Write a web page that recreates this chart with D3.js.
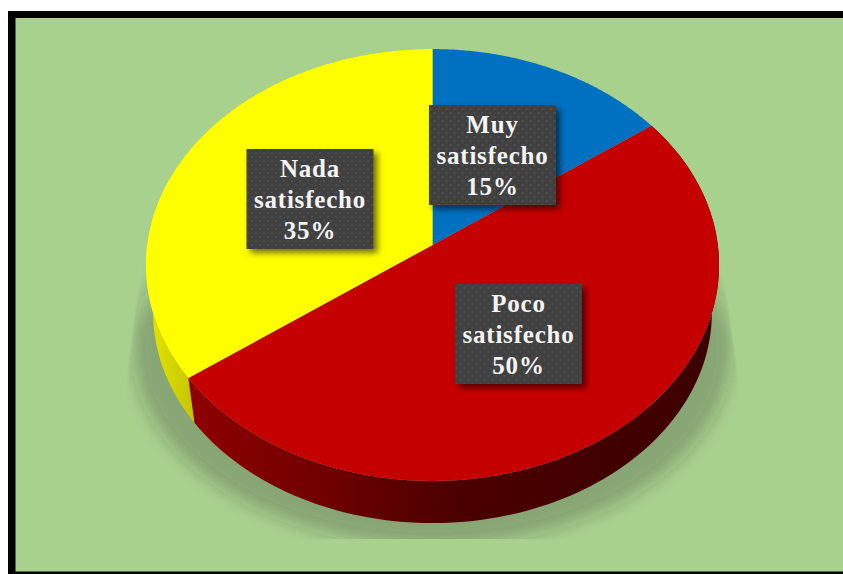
<!DOCTYPE html>
<html>
<head>
<meta charset="utf-8">
<script src="https://cdn.jsdelivr.net/npm/d3@7"></script>
<style>
html,body{margin:0;padding:0;background:#fff;}
svg{display:block;}
</style>
</head>
<body>
<svg id="chart" width="843" height="574"></svg>
<script>
const categories = ["Muy satisfecho", "Poco satisfecho", "Nada satisfecho"];
const shares = [15, 50, 35];
const sliceColors = ["#0070c0", "#c50000", "#ffff00"];
const labelLines = [["Muy", "satisfecho", "15%"], ["Poco", "satisfecho", "50%"], ["Nada", "satisfecho", "35%"]];

const svg = d3.select("#chart");
const defs = svg.append("defs");

// Tilted disc: unit circle seen in perspective, apex at (432.5, 245).
const cx = 432.5, cy = 245, rX = 285.3, rY = 214.1, persp = 0.0926;
const rimScale = 0.975, rimDrop = 48;
const project = (angle, lift) => {
  const u = Math.sin(angle), v = -Math.cos(angle);
  const d = 1 - persp * v, s = lift ? rimScale : 1;
  return [cx + s * rX * u / d, cy + s * rY * v / d + (lift ? rimDrop : 0)];
};
const sweep = (a0, a1, lift) => d3.range(0, 121).map(i => project(a0 + (a1 - a0) * i / 120, lift));
const line = d3.line();

const arcs = d3.pie().sort(null).value(d => d)(shares);

// Frame and background
svg.append("rect").attr("x", 8).attr("y", 11).attr("width", 860).attr("height", 570).attr("fill", "#000");
svg.append("rect").attr("x", 15.5).attr("y", 18).attr("width", 860).attr("height", 553.5).attr("fill", "#a9d18e");

// Ground shadow: blurred ellipse, fading upward, trimmed to a flared wedge and cut flat underneath
const fade = defs.append("linearGradient").attr("id", "shadowFade").attr("gradientUnits", "userSpaceOnUse")
  .attr("x1", 0).attr("x2", 0).attr("y1", 215).attr("y2", 330);
fade.append("stop").attr("offset", 0).attr("stop-color", "#fff").attr("stop-opacity", 0);
fade.append("stop").attr("offset", 1).attr("stop-color", "#fff").attr("stop-opacity", 1);
defs.append("mask").attr("id", "shadowMask").attr("maskUnits", "userSpaceOnUse")
  .attr("x", 0).attr("y", 0).attr("width", 843).attr("height", 574)
  .append("rect").attr("width", 843).attr("height", 574).attr("fill", "url(#shadowFade)");
defs.append("filter").attr("id", "shadowBlur").attr("x", "-20%").attr("y", "-20%").attr("width", "140%").attr("height", "140%")
  .append("feGaussianBlur").attr("stdDeviation", 9);
defs.append("filter").attr("id", "edgeBlur").attr("filterUnits", "userSpaceOnUse")
  .attr("x", 0).attr("y", 0).attr("width", 843).attr("height", 574)
  .append("feGaussianBlur").attr("stdDeviation", 1.2);
defs.append("clipPath").attr("id", "wedgeClip").append("path")
  .attr("d", line([[150, 200], [127, 383], [100, 600], [770, 600], [738, 380], [716, 230]]) + "Z");
defs.append("clipPath").attr("id", "floorClip").append("rect")
  .attr("x", 0).attr("y", 0).attr("width", 843).attr("height", 539);
svg.append("g").attr("clip-path", "url(#floorClip)")
  .append("g").attr("filter", "url(#edgeBlur)")
  .append("g").attr("clip-path", "url(#wedgeClip)")
  .append("g").attr("mask", "url(#shadowMask)")
  .append("path")
  .attr("d", line(d3.range(0, 73).map(i => {
    const t = i / 72 * 2 * Math.PI;
    return [432.5 + 299 * Math.sin(t), 348 - 197 * Math.cos(t)];
  })) + "Z")
  .attr("fill", "#2b2b2b").attr("opacity", 0.27).attr("filter", "url(#shadowBlur)");

// Side wall gradients
const wallStops = {
  1: [[0, "#8f0000"], [0.25, "#700000"], [0.5, "#4c0000"], [0.75, "#420000"], [1, "#3c0000"]],
  2: [[0, "#e6e600"], [1, "#c4c400"]]
};
const wallRange = { 1: [189, 719], 2: [146, 195] };
Object.keys(wallStops).forEach(k => {
  const g = defs.append("linearGradient").attr("id", "wall" + k).attr("gradientUnits", "userSpaceOnUse")
    .attr("x1", wallRange[k][0]).attr("x2", wallRange[k][1]).attr("y1", 0).attr("y2", 0);
  wallStops[k].forEach(s => g.append("stop").attr("offset", s[0]).attr("stop-color", s[1]));
});

// Side walls of the slices that face the viewer
[2, 1].forEach(i => {
  const a = arcs[i];
  const top = sweep(a.startAngle, a.endAngle, false);
  const low = sweep(a.startAngle, a.endAngle, true).reverse();
  svg.append("path").attr("d", line(top.concat(low)) + "Z").attr("fill", `url(#wall${i})`);
});

// Top faces
svg.append("g").selectAll("path").data(arcs).join("path")
  .attr("d", a => line([[cx, cy]].concat(sweep(a.startAngle, a.endAngle, false))) + "Z")
  .attr("fill", (a, i) => sliceColors[i]);

// Data labels: dotted dark plates with a drop shadow
const dots = defs.append("pattern").attr("id", "plateDots").attr("patternUnits", "userSpaceOnUse")
  .attr("width", 8).attr("height", 8);
dots.append("rect").attr("width", 8).attr("height", 8).attr("fill", "#404040");
dots.append("rect").attr("x", 1).attr("y", 1).attr("width", 2).attr("height", 2).attr("fill", "#4e4e4e");
dots.append("rect").attr("x", 5).attr("y", 5).attr("width", 2).attr("height", 2).attr("fill", "#4e4e4e");
const plateShadow = defs.append("filter").attr("id", "plateShadow").attr("x", "-20%").attr("y", "-20%").attr("width", "145%").attr("height", "145%");
plateShadow.append("feDropShadow").attr("dx", 4).attr("dy", 4).attr("stdDeviation", 3)
  .attr("flood-color", "#000").attr("flood-opacity", 0.55);

const plateCenters = [[492.5, 155], [518.5, 334], [310, 199]];
const plateW = 127, plateH = 100;
const plates = svg.append("g").selectAll("g").data(categories).join("g")
  .attr("aria-label", d => d)
  .attr("transform", (d, i) => `translate(${plateCenters[i][0]},${plateCenters[i][1]})`);
plates.append("rect").attr("x", -plateW / 2).attr("y", -plateH / 2)
  .attr("width", plateW).attr("height", plateH)
  .attr("fill", "url(#plateDots)").attr("filter", "url(#plateShadow)");
plates.each(function(d, i) {
  d3.select(this).selectAll("text").data(labelLines[i]).join("text")
    .attr("x", 0).attr("y", (t, j) => -22 + j * 31)
    .attr("text-anchor", "middle")
    .attr("font-family", "'Liberation Serif', serif")
    .attr("font-weight", "bold").attr("font-size", 25)
    .attr("letter-spacing", 0.8)
    .attr("fill", "#f4f4f4")
    .text(t => t);
});
</script>
</body>
</html>
